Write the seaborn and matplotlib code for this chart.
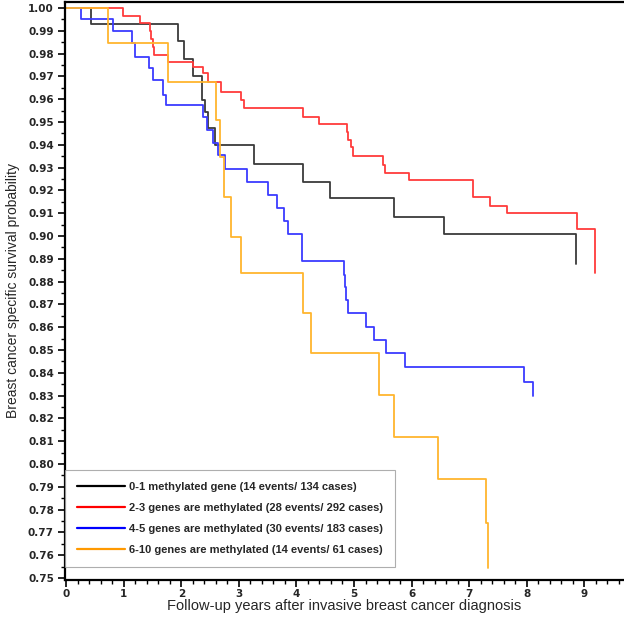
import numpy as np
import pandas as pd
import matplotlib
matplotlib.use("Agg")
import matplotlib.pyplot as plt
from matplotlib.ticker import MultipleLocator, FormatStrFormatter
from matplotlib.lines import Line2D
import seaborn as sns

# ---- data (Kaplan-Meier step points) ----
labels = [
    "0-1 methylated gene (14 events/ 134 cases)",
    "2-3 genes are methylated (28 events/ 292 cases)",
    "4-5 genes are methylated (30 events/ 183 cases)",
    "6-10 genes are methylated (14 events/ 61 cases)",
]

t_01 = [0, 0.43, 1.94, 2.05, 2.2, 2.36, 2.41, 2.46, 2.58, 3.27, 4.12, 4.58, 5.69, 6.57, 8.85]
s_01 = [1.0, 0.9930, 0.9855, 0.9776, 0.9700, 0.9596, 0.9544, 0.9474, 0.9400, 0.9316, 0.9237, 0.9167, 0.9083, 0.9009, 0.8877]
end_01 = 8.85

t_23 = [0, 0.99, 1.28, 1.46, 1.48, 1.50, 1.53, 1.77, 2.2, 2.37, 2.46, 2.69, 3.03, 3.09, 4.12, 4.39,
        4.87, 4.90, 4.95, 4.98, 5.51, 5.53, 5.95, 7.07, 7.37, 7.66, 8.87, 9.19]
s_23 = [1.0, 0.9966, 0.9932, 0.9897, 0.9863, 0.9829, 0.9795, 0.9761, 0.9740, 0.9715, 0.9675, 0.9632,
        0.9596, 0.9561, 0.9522, 0.9491, 0.9456, 0.9421, 0.9390, 0.9351, 0.9310, 0.9276, 0.9246,
        0.9171, 0.9132, 0.9101, 0.9031, 0.8838]
end_23 = 9.19

t_45 = [0, 0.26, 0.81, 1.14, 1.20, 1.44, 1.50, 1.69, 1.73, 2.37, 2.44, 2.55, 2.63, 2.76, 3.15, 3.50,
        3.67, 3.78, 3.85, 4.09, 4.82, 4.84, 4.86, 4.89, 5.20, 5.34, 5.55, 5.88, 7.95, 8.11]
s_45 = [1.0, 0.9950, 0.9900, 0.9846, 0.9785, 0.9737, 0.9684, 0.9618, 0.9575, 0.9520, 0.9465, 0.9408,
        0.9355, 0.9294, 0.9237, 0.9180, 0.9123, 0.9066, 0.9009, 0.8890, 0.8829, 0.8776, 0.8720,
        0.8662, 0.8601, 0.8544, 0.8487, 0.8425, 0.8360, 0.8298]
end_45 = 8.11

t_610 = [0, 0.73, 1.77, 2.60, 2.67, 2.74, 2.87, 3.03, 4.12, 4.26, 5.44, 5.69, 6.46, 7.30, 7.33]
s_610 = [1.0, 0.9846, 0.9675, 0.9509, 0.9346, 0.9170, 0.8996, 0.8838, 0.8662, 0.8487, 0.8303,
         0.8118, 0.7934, 0.7740, 0.7545]
end_610 = 7.33

series = [(t_01, s_01, end_01), (t_23, s_23, end_23), (t_45, s_45, end_45), (t_610, s_610, end_610)]
curve_colors = ["#3a3a3a", "#ff3b3b", "#3b3bff", "#ffb52e"]
legend_colors = ["#000000", "#ff0000", "#0000ff", "#ff9900"]

frames = []
for lab, (t, s, e) in zip(labels, series):
    tt = list(t) + [e]
    ss = list(s) + [s[-1]]
    frames.append(pd.DataFrame({"time": tt, "surv": ss, "group": lab}))
df = pd.concat(frames, ignore_index=True)

# ---- figure ----
sns.set_theme(style="white")
plt.rcParams["font.family"] = ["Liberation Sans", "DejaVu Sans"]

fig = plt.figure(figsize=(6.24, 6.17), dpi=100)
ax = fig.add_axes([65 / 624, 37 / 617, (624 - 65) / 624, 578 / 617])

for lab, cc in zip(labels, curve_colors):
    sub = df[df["group"] == lab]
    sns.lineplot(data=sub, x="time", y="surv", ax=ax, color=cc, lw=1.3,
                 drawstyle="steps-post", sort=False, estimator=None, legend=False)

ax.set_xlim(-0.02, 9.69)
ax.set_ylim(0.7491, 1.0026)

ax.xaxis.set_major_locator(MultipleLocator(1))
ax.xaxis.set_minor_locator(MultipleLocator(0.2))
ax.yaxis.set_major_locator(MultipleLocator(0.01))
ax.yaxis.set_minor_locator(MultipleLocator(0.005))
ax.yaxis.set_major_formatter(FormatStrFormatter("%.2f"))
ax.xaxis.set_major_formatter(FormatStrFormatter("%d"))

ax.tick_params(axis="both", which="major", direction="out", length=5, width=1.2,
               color="black", labelsize=7.5, pad=1.5, bottom=True, left=True)
ax.tick_params(axis="y", which="major", pad=3)
ax.tick_params(axis="both", which="minor", direction="out", length=3, width=1.0,
               color="black", bottom=True, left=True)
for lbl in ax.get_xticklabels() + ax.get_yticklabels():
    lbl.set_fontfamily("DejaVu Sans")
    lbl.set_fontweight("bold")

for side in ["left", "bottom", "top"]:
    ax.spines[side].set_color("black")
    ax.spines[side].set_linewidth(1.6)
ax.spines["right"].set_visible(False)

ax.set_xlabel("Follow-up years after invasive breast cancer diagnosis", fontsize=10.5, labelpad=0)
ax.set_ylabel("Breast cancer specific survival probability", fontsize=10, labelpad=6)

handles = [Line2D([0], [0], color=c, lw=1.6) for c in legend_colors]
leg = ax.legend(handles, labels, loc="lower left", bbox_to_anchor=(0.0, 0.022),
                borderaxespad=0, frameon=True, fancybox=False, handlelength=4.3,
                handletextpad=0.35, labelspacing=1.0, borderpad=1.1,
                prop={"family": "Liberation Sans", "weight": "bold", "size": 8.0})
leg.get_frame().set_edgecolor("#9a9a9a")
leg.get_frame().set_linewidth(0.8)

fig.savefig("out.png", dpi=100)
